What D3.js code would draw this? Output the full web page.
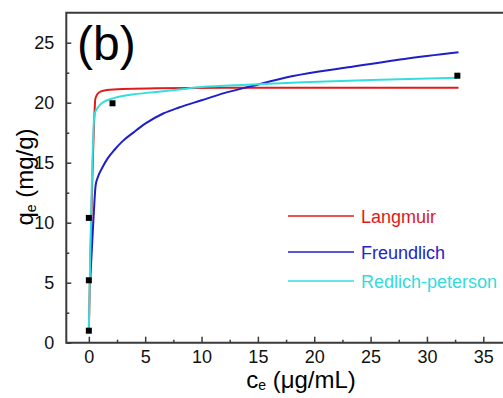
<!DOCTYPE html>
<html>
<head>
<meta charset="utf-8">
<script src="https://cdn.jsdelivr.net/npm/d3@7"></script>
<style>
  html, body { margin: 0; padding: 0; background: #fff; }
  svg { display: block; font-family: Arial, 'Liberation Sans', sans-serif; }
</style>
</head>
<body>
<div id="chart_svg"></div>
<script>
// measured points (ce, qe)
const obsC = [0, 0, 0, 2.1, 32.7]
const obsQ = [1.0, 5.2, 10.4, 19.95, 22.25]

// fitted curves
const langC = [0, 0.52, 0.57, 0.75, 1.1, 1.6, 3, 6, 12, 20, 32.8]
const langQ = [1.0, 19.5, 20.3, 20.7, 20.95, 21.05, 21.15, 21.2, 21.25, 21.25, 21.25]

const freuC = [0.12, 0.45, 0.6, 0.8, 1.2, 1.7, 2.3, 3, 4, 5, 6.6, 8, 10, 12, 14.3, 18, 23, 28, 32.8]
const freuQ = [5.2, 11.0, 13.1, 13.8, 14.6, 15.4, 16.1, 16.8, 17.55, 18.25, 19.1, 19.6, 20.2, 20.8, 21.35, 22.2, 22.95, 23.65, 24.2]

const rpC = [0, 0.5, 0.8, 1.2, 2.3, 4, 6, 8, 10, 14, 19, 25, 32.7]
const rpQ = [1.0, 19.0, 19.6, 20.0, 20.4, 20.7, 20.9, 21.1, 21.3, 21.5, 21.7, 21.9, 22.08]

const xTicks = [0, 5, 10, 15, 20, 25, 30, 35]
const yTicks = [0, 5, 10, 15, 20, 25]

const models = [
  { name: 'Langmuir', c: langC, q: langQ, color: '#e01b1b', text: '#e01818' },
  { name: 'Freundlich', c: freuC, q: freuQ, color: '#1f1fc8', text: '#2424c8' },
  { name: 'Redlich-peterson', c: rpC, q: rpQ, color: '#35dede', text: '#30dcdc' }
]

const width = 503
const height = 398
const axisColor = '#3a3a3a'

const svg = d3.select('#chart_svg').append('svg')
  .attr('width', width)
  .attr('height', height)

const xScale = d3.scaleLinear().domain([-2, 38]).range([66.3, 517.1])
const yScale = d3.scaleLinear().domain([0, 27.5]).range([342.7, 12.7])

const [x0, x1] = xScale.range()
const [yb, yt] = yScale.range()

// curves
const line = d3.line()
  .x(d => xScale(d[0]))
  .y(d => yScale(d[1]))
  .curve(d3.curveMonotoneX)
models.forEach(m => {
  svg.append('path')
    .datum(d3.zip(m.c, m.q))
    .attr('d', line)
    .attr('fill', 'none')
    .attr('stroke', m.color)
    .attr('stroke-width', 2)
    .attr('stroke-linejoin', 'round')
})

// markers
svg.selectAll('.pt')
  .data(d3.zip(obsC, obsQ))
  .join('rect')
  .attr('class', 'pt')
  .attr('x', d => xScale(d[0]) - 3)
  .attr('y', d => yScale(d[1]) - 3)
  .attr('width', 6)
  .attr('height', 6)
  .attr('fill', '#000')

// frame (right side falls outside the window)
svg.append('path')
  .attr('d', `M${x0},${yt}H${x1}V${yb}H${x0}Z`)
  .attr('fill', 'none')
  .attr('stroke', axisColor)
  .attr('stroke-width', 2)

// x axis, inward ticks
const xAxis = svg.append('g').attr('transform', `translate(0,${yb})`)
xAxis.call(d3.axisBottom(xScale).tickValues(xTicks).tickSize(-6).tickPadding(8).tickFormat(d3.format('d')))
xAxis.append('g').call(d3.axisBottom(xScale).tickValues(d3.range(2.5, 38, 5)).tickSize(-3).tickFormat(''))
xAxis.selectAll('.domain').remove()

const yAxis = svg.append('g').attr('transform', `translate(${x0},0)`)
yAxis.call(d3.axisLeft(yScale).tickValues(yTicks).tickSize(-5).tickPadding(12).tickFormat(d3.format('d')))
yAxis.append('g').call(d3.axisLeft(yScale).tickValues(d3.range(2.5, 27, 5)).tickSize(-3).tickFormat(''))
yAxis.selectAll('.domain').remove()

svg.selectAll('.tick line').attr('stroke', axisColor).attr('stroke-width', 1.5)
svg.selectAll('.tick text')
  .attr('fill', '#111')
  .attr('font-size', 18)
  .attr('font-family', 'Arial, Liberation Sans, sans-serif')

// legend
const legend = svg.append('g')
models.forEach((m, i) => {
  const ly = [216, 252, 281][i]
  legend.append('line')
    .attr('x1', 288).attr('x2', 354)
    .attr('y1', ly).attr('y2', ly)
    .attr('stroke', m.color)
    .attr('stroke-width', 1.5)
  legend.append('text')
    .attr('x', 361)
    .attr('y', ly + 7)
    .attr('font-size', 18)
    .attr('fill', m.text)
    .text(m.name)
})

// panel letter
svg.append('text')
  .attr('x', 77)
  .attr('y', 60)
  .attr('font-size', 48)
  .attr('fill', '#000')
  .text('(b)')

// axis titles
const xt = svg.append('text')
  .attr('x', 301)
  .attr('y', 388)
  .attr('text-anchor', 'middle')
  .attr('font-size', 24)
  .attr('fill', '#000')
xt.append('tspan').text('c')
xt.append('tspan').attr('font-size', 14).attr('dy', 2).text('e')
xt.append('tspan').attr('dy', -2).text(' (\u03bcg/mL)')

const yt2 = svg.append('text')
  .attr('transform', 'translate(33,177) rotate(-90)')
  .attr('text-anchor', 'middle')
  .attr('font-size', 24)
  .attr('fill', '#000')
yt2.append('tspan').text('q')
yt2.append('tspan').attr('font-size', 14).attr('dy', 3).text('e')
yt2.append('tspan').attr('dy', -3).text(' (mg/g)')
</script>
</body>
</html>
